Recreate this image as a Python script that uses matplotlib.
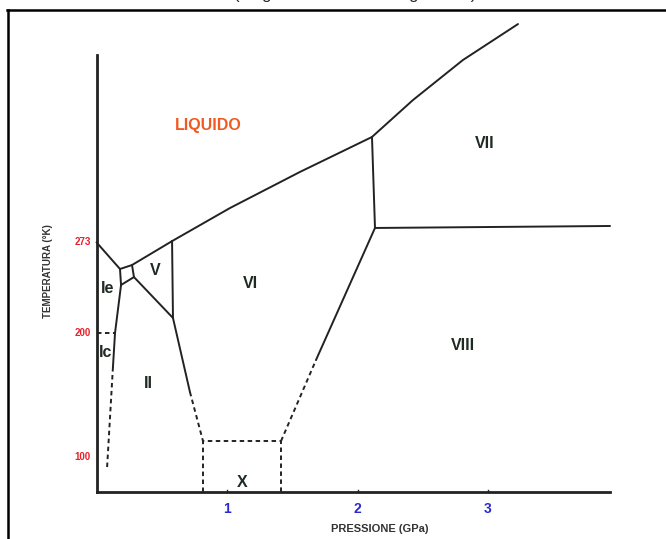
import matplotlib.pyplot as plt
from matplotlib.lines import Line2D

# phase boundaries, pressure in GPa, temperature in K
melt_ih_p = [0.0, 0.18]
melt_ih_t = [273, 251.5]
liq_v_p = [0.18, 0.272, 0.579]
liq_v_t = [251.5, 254.7, 274]
liq_vi_p = [0.579, 1.023, 1.559, 2.111]
liq_vi_t = [274, 300.7, 329.8, 358.0]
liq_vii_p = [2.111, 2.425, 2.808, 3.230]
liq_vii_t = [358.0, 387.8, 420.1, 449.1]

iii_box_p = [0.272, 0.287, 0.188, 0.18]
iii_box_t = [254.7, 245.0, 238.6, 251.5]
ih_ii_p = [0.188, 0.142, 0.126]
ih_ii_t = [238.6, 200, 172.4]
ic_ii_dash_p = [0.126, 0.080]
ic_ii_dash_t = [172.4, 89.4]
ic_line_p = [0.0, 0.142]
ic_line_t = [200, 200]

v_right_p = [0.579, 0.586]
v_right_t = [274, 212.0]
iii_v_p = [0.287, 0.586]
iii_v_t = [245.0, 212.0]
vi_ii_p = [0.586, 0.716]
vi_ii_t = [212.0, 152.3]
vi_ii_dash_p = [0.716, 0.816]
vi_ii_dash_t = [152.3, 112.7]

x_box_p = [0.816, 0.816, 1.414, 1.414]
x_box_t = [71.6, 112.7, 112.7, 71.6]

vi_viii_dash_p = [1.414, 1.682]
vi_viii_dash_t = [112.7, 178.1]
vi_viii_p = [1.682, 2.134]
vi_viii_t = [178.1, 284.6]
vi_vii_p = [2.111, 2.134]
vi_vii_t = [358.0, 284.6]
vii_viii_p = [2.134, 3.935]
vii_viii_t = [284.6, 286.2]

t_ticks = [100, 200, 273]
p_ticks = [1, 2, 3]

phase_names = ["VII", "VI", "V", "Ie", "Ic", "II", "X", "VIII"]
phase_p = [2.977, 1.176, 0.448, 0.088, 0.073, 0.395, 1.115, 2.808]
phase_t = [353.1, 240.2, 249.9, 235.4, 184.5, 159.5, 79.3, 189.4]

fig = plt.figure(figsize=(6.66, 5.39), dpi=100)
ax = fig.add_axes([0, 0, 1, 1])
ax.set_xlim(-0.7395, 4.364)
ax.set_ylim(33.7, 468.5)
ax.axis("off")

lc = "#222222"
solid = dict(color=lc, lw=1.4, solid_capstyle="round")
dash = dict(color=lc, lw=1.4, ls=(0, (2.3, 1.8)))

# axes of the diagram
ax.plot([0, 0], [424.1, 71.6], color=lc, lw=2.0)
ax.plot([0, 3.935], [71.6, 71.6], color=lc, lw=2.0)

for p, t in [(melt_ih_p, melt_ih_t), (liq_v_p, liq_v_t), (liq_vi_p, liq_vi_t),
             (liq_vii_p, liq_vii_t), (iii_box_p, iii_box_t), (ih_ii_p, ih_ii_t),
             (v_right_p, v_right_t), (iii_v_p, iii_v_t), (vi_ii_p, vi_ii_t),
             (vi_viii_p, vi_viii_t), (vi_vii_p, vi_vii_t), (vii_viii_p, vii_viii_t)]:
    ax.plot(p, t, **solid)

for p, t in [(ic_ii_dash_p, ic_ii_dash_t), (ic_line_p, ic_line_t),
             (vi_ii_dash_p, vi_ii_dash_t), (x_box_p, x_box_t),
             (vi_viii_dash_p, vi_viii_dash_t)]:
    ax.plot(p, t, **dash)

for name, p, t in zip(phase_names, phase_p, phase_t):
    ax.text(p, t, name, ha="center", va="center", fontsize=11.5,
            color="#1e2a22", fontweight="bold", family="Liberation Sans")

ax.text(0.854, 366.9, "LIQUIDO", ha="center", va="center", fontsize=11.5,
        color="#f05a22", fontweight="bold", family="Liberation Sans")

for t in t_ticks:
    ax.text(-0.045, t, str(t), ha="right", va="center", fontsize=7,
            color="#e8202a", fontweight="bold", family="Liberation Sans")
for p in p_ticks:
    ax.text(p, 58, str(p), ha="center", va="center", fontsize=10,
            color="#2a2ad0", fontweight="bold", family="Liberation Sans")
    ax.plot([p, p], [71.6, 73.5], color=lc, lw=1.0)

ax.text(2.17, 42, "PRESSIONE (GPa)", ha="center", va="center", fontsize=8,
        color="#333333", fontweight="bold", family="Liberation Sans")
ax.text(-0.37, 250, "TEMPERATURA (°K)", ha="center", va="center", fontsize=7,
        color="#333333", fontweight="bold", rotation=90, family="Liberation Sans")

# frame of the scanned page and the cut-off caption
fig.add_artist(Line2D([7 / 666, 1], [1 - 10 / 539, 1 - 10 / 539], color="black", lw=1.8))
fig.add_artist(Line2D([8 / 666, 8 / 666], [0, 1 - 10 / 539], color="black", lw=1.8))
fig.text(0.533, 1 + 1.0 / 539, "(diagramma di fase del ghiaccio)", ha="center",
         va="baseline", fontsize=12, color="#222222", family="Liberation Sans")

fig.savefig("out.png", dpi=100)
